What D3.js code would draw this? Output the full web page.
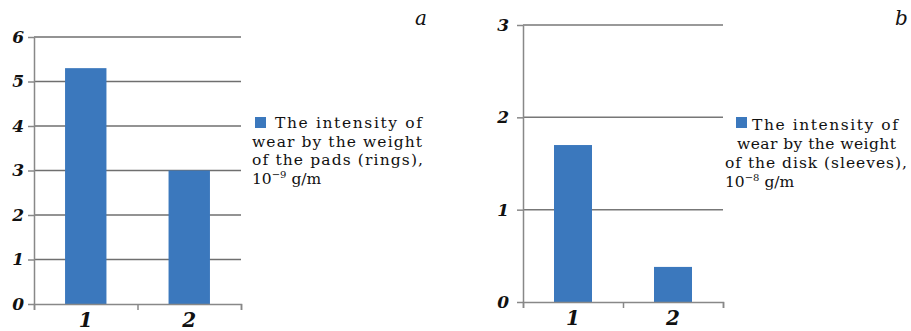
<!DOCTYPE html>
<html>
<head>
<meta charset="utf-8">
<script src="https://cdn.jsdelivr.net/npm/d3@7"></script>
</head>
<body style="margin:0; background:#fff">
<div id="chart"></div>
<script>
// categories on the x axis (same for both panels)
const categories = ["1", "2"]

// panel a: wear of the pads (rings), 10^-9 g/m
const padsValues = [5.3, 3.0]
const padsTicks = [0, 1, 2, 3, 4, 5, 6]
const padsLegend = ["The intensity of", "wear by the weight", "of the pads (rings),"]
const padsExp = "−9"

// panel b: wear of the disk (sleeves), 10^-8 g/m
const diskValues = [1.7, 0.38]
const diskTicks = [0, 1, 2, 3]
const diskLegend = ["The intensity of", "wear by the weight", "of the disk (sleeves),"]
const diskExp = "−8"

const barColor = "#3b78bd"
const font = "DejaVu Serif"

const svg = d3.select("#chart")
    .append("svg")
    .attr("width", 911)
    .attr("height", 331)
    .attr("font-family", font)

function drawPanel(opts) {
    const x = d3.scaleBand()
        .domain(categories)
        .range([opts.left, opts.right])
        .paddingInner(opts.pad)
        .paddingOuter(opts.pad / 2)

    const y = d3.scaleLinear()
        .domain([0, d3.max(opts.ticks)])
        .range([opts.bottom, opts.top])

    const g = svg.append("g")

    // gridlines
    g.selectAll(".grid")
        .data(opts.ticks.filter(t => t > 0))
        .enter()
        .append("line")
        .attr("x1", opts.left)
        .attr("x2", opts.right)
        .attr("y1", d => y(d))
        .attr("y2", d => y(d))
        .attr("stroke", opts.gridColor)
        .attr("stroke-width", 1.5)

    // bars
    g.selectAll(".bar")
        .data(opts.values)
        .enter()
        .append("rect")
        .attr("x", (d, i) => x(categories[i]))
        .attr("width", x.bandwidth())
        .attr("y", d => y(d))
        .attr("height", d => y(0) - y(d))
        .attr("fill", barColor)

    // y axis
    const yAxis = g.append("g")
        .attr("transform", `translate(${opts.left},0)`)
        .call(d3.axisLeft(y).tickValues(opts.ticks).tickFormat(d3.format("d"))
            .tickSize(6).tickSizeOuter(0).tickPadding(opts.tickPad))
        .attr("font-family", font)
        .attr("font-size", 17)
        .attr("font-style", "italic")
        .attr("font-weight", "bold")
    yAxis.select(".domain").attr("stroke", "#888").attr("stroke-width", 1.5)
    yAxis.selectAll(".tick line").attr("stroke", "#888").attr("stroke-width", 1.5)
    yAxis.selectAll(".tick text").attr("fill", "#111")

    // x axis: ticks at band edges, labels at band centres
    const edges = d3.scaleLinear().domain([0, categories.length]).range([opts.left, opts.right])
    const xAxis = g.append("g")
        .attr("transform", `translate(0,${opts.bottom})`)
        .call(d3.axisBottom(edges).ticks(categories.length).tickFormat("").tickSize(6).tickSizeOuter(6))
    xAxis.select(".domain").attr("stroke", "#888").attr("stroke-width", 1.5)
    xAxis.selectAll(".tick line").attr("stroke", "#888").attr("stroke-width", 1.5)

    g.selectAll(".cat")
        .data(categories)
        .enter()
        .append("text")
        .attr("font-size", 20)
        .attr("font-style", "italic")
        .attr("font-weight", "bold")
        .attr("fill", "#111")
        .attr("text-anchor", "middle")
        .attr("x", d => x(d) + x.bandwidth() / 2)
        .attr("y", opts.bottom + 23)
        .text(d => d)

    // legend
    const lg = g.append("g").attr("font-size", 15.5).attr("fill", "#111")
    lg.append("rect")
        .attr("x", opts.legend.sq[0])
        .attr("y", opts.legend.sq[1])
        .attr("width", 11)
        .attr("height", 11)
        .attr("fill", barColor)
    opts.legend.lines.forEach((line, i) => {
        lg.append("text")
            .attr("x", opts.legend.xs[i])
            .attr("y", opts.legend.ys[i])
            .attr("textLength", opts.legend.widths[i])
            .attr("lengthAdjust", "spacing")
            .text(line)
    })
    const unit = lg.append("text")
        .attr("x", opts.legend.xs[3])
        .attr("y", opts.legend.ys[3])
    unit.append("tspan").text("10")
    unit.append("tspan").attr("dy", -6).attr("font-size", 10).text(opts.exp)
    unit.append("tspan").attr("dy", 6).text(opts.unitGap + "g/m")

    // panel letter
    g.append("text")
        .attr("font-size", 20)
        .attr("font-style", "italic")
        .attr("fill", "#111")
        .attr("x", opts.letterX)
        .attr("y", 25)
        .text(opts.letter)
}

drawPanel({
    values: padsValues, ticks: padsTicks,
    left: 34, right: 241, top: 37, bottom: 304, pad: 0.6, tickPad: 4,
    gridColor: "#6f6f6f",
    legend: {sq: [255, 117], lines: padsLegend, widths: [147, 170, 171],
        xs: [275, 252, 252, 252], ys: [128, 147, 165, 184]},
    exp: padsExp, unitGap: " ",
    letter: "a", letterX: 415
})

drawPanel({
    values: diskValues, ticks: diskTicks,
    left: 523, right: 723, top: 25, bottom: 302, pad: 0.62, tickPad: 8,
    gridColor: "#777",
    legend: {sq: [736, 117], lines: diskLegend, widths: [146, 159, 182],
        xs: [752, 737, 725, 725], ys: [130, 149, 168, 187]},
    exp: diskExp, unitGap: "  ",
    letter: "b", letterX: 895
})
</script>
</body>
</html>
